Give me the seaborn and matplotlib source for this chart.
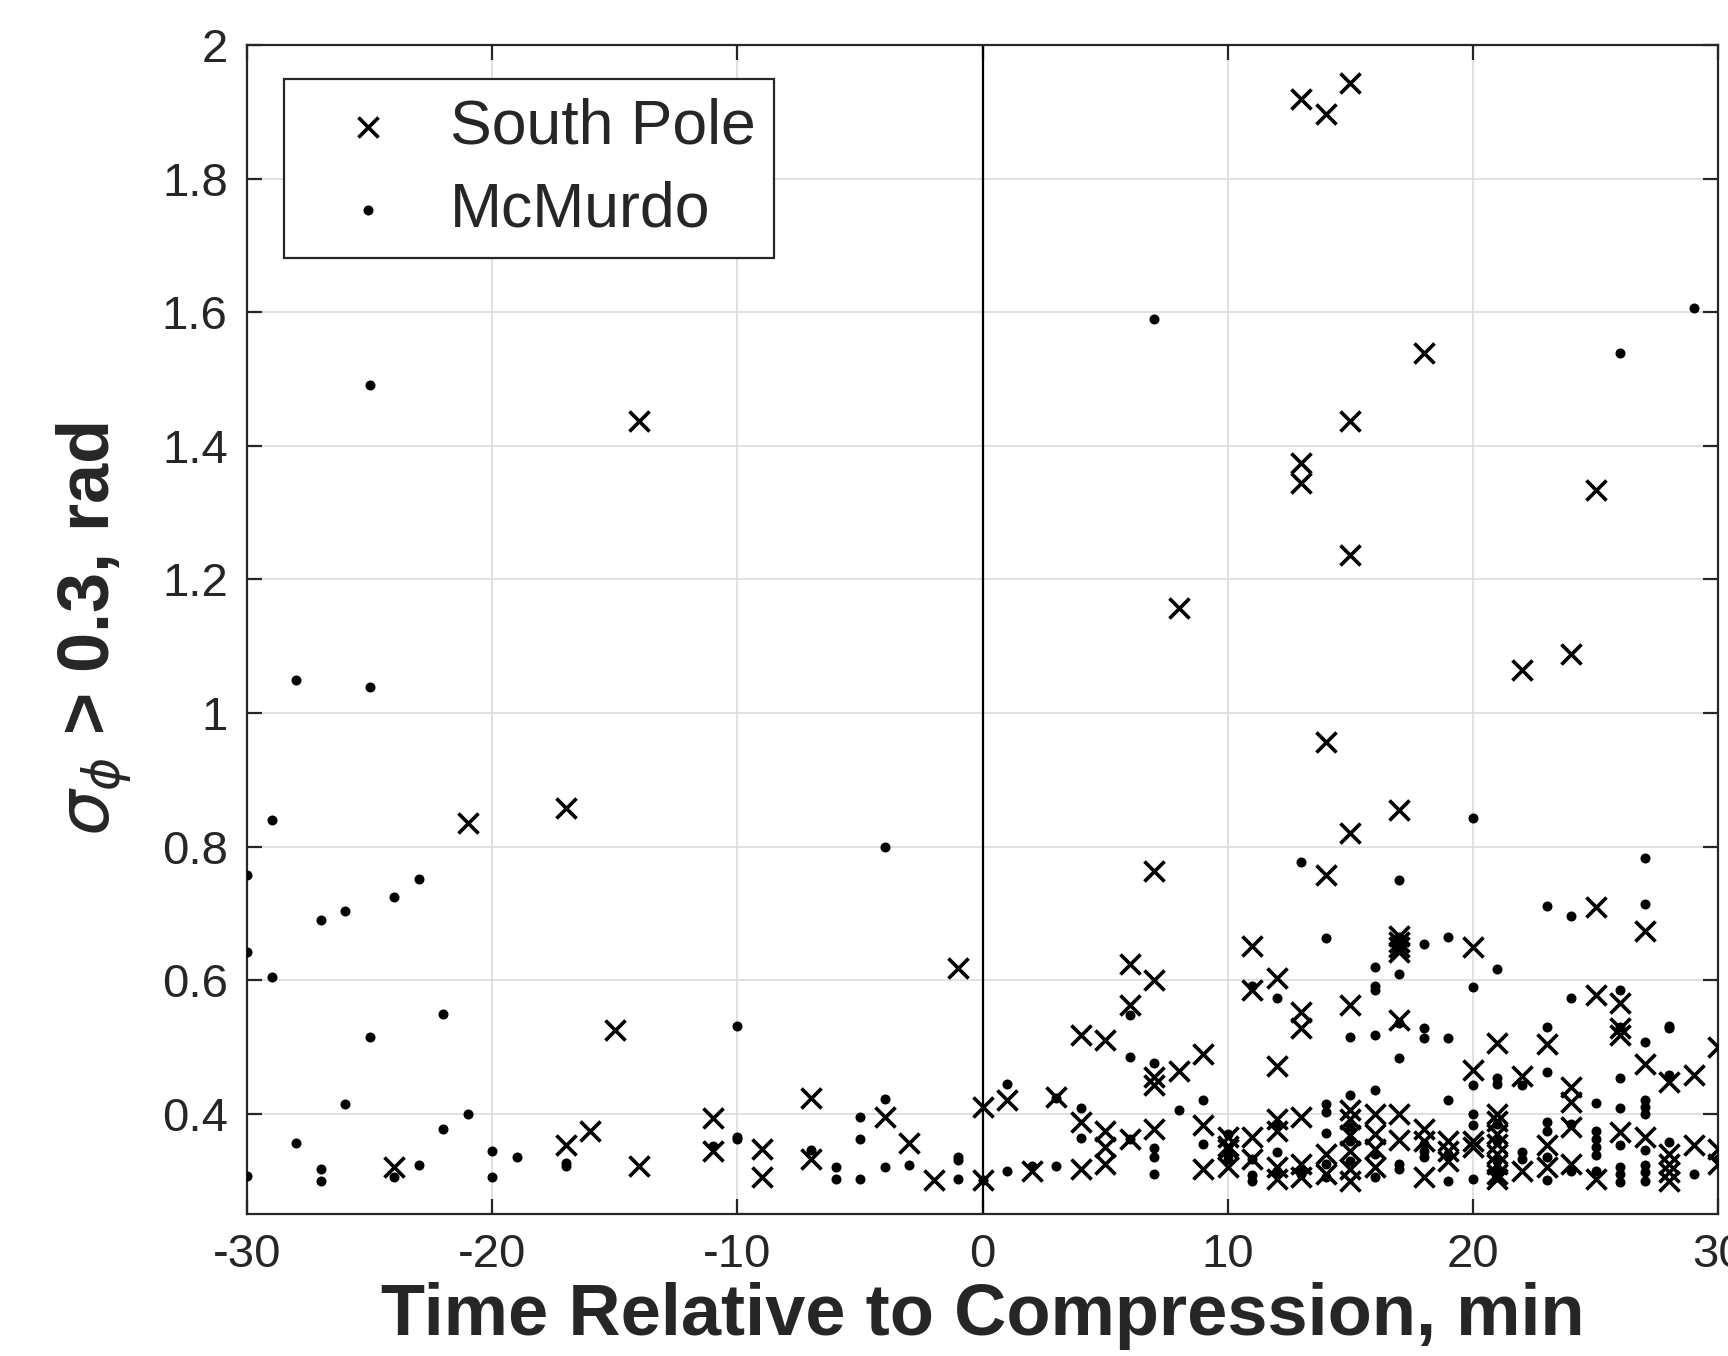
"""
Scatter of phase scintillation events (sigma_phi > 0.3 rad) relative to
compression onset, South Pole vs McMurdo.
"""

import matplotlib

matplotlib.use("Agg")

import matplotlib.pyplot as plt
import numpy as np
import pandas as pd
import seaborn as sns


# South Pole events (minutes from compression, sigma_phi in rad)
SP_TIME = [
    -24, -21, -17, -17, -16, -15, -14, -14, -11, -11, -9, -9, -7, -7, -4, -3, -2, -1, 0, 0,
    1, 2, 3, 4, 4, 4, 5, 5, 5, 5, 6, 6, 6, 7, 7, 7, 7, 7, 8, 8, 9, 9, 9,
    10, 10, 10, 10, 11, 11, 11, 11, 12, 12, 12, 12, 12, 12,
    13, 13, 13, 13, 13, 13, 13, 13, 14, 14, 14, 14, 14,
    15, 15, 15, 15, 15, 15, 15, 15, 15, 15, 15, 16, 16, 16, 16,
    17, 17, 17, 17, 17, 17, 17, 17, 18, 18, 18, 18, 19, 19, 19, 20, 20, 20, 20,
    21, 21, 21, 21, 21, 21, 21, 21, 21, 22, 22, 22, 23, 23, 23,
    24, 24, 24, 24, 24, 25, 25, 25, 25, 26, 26, 26, 26, 27, 27, 27,
    28, 28, 28, 28, 28, 29, 29, 30, 30, 30,
]
SP_SIGMA = [
    0.321, 0.835, 0.858, 0.353, 0.374, 0.526, 1.438, 0.322, 0.394, 0.345, 0.348, 0.305,
    0.423, 0.333, 0.396, 0.356, 0.301, 0.619, 0.410, 0.301,
    0.420, 0.314, 0.425, 0.518, 0.388, 0.318, 0.510, 0.375, 0.350, 0.325, 0.625, 0.563, 0.363,
    0.764, 0.600, 0.455, 0.443, 0.378, 1.157, 0.464, 0.489, 0.384, 0.318,
    0.365, 0.352, 0.347, 0.320, 0.652, 0.585, 0.365, 0.333, 0.603, 0.471, 0.393, 0.375, 0.320, 0.303,
    1.919, 1.374, 1.344, 0.553, 0.528, 0.396, 0.325, 0.305, 1.897, 0.957, 0.757, 0.340, 0.310,
    1.944, 1.438, 1.236, 0.821, 0.563, 0.405, 0.393, 0.368, 0.345, 0.318, 0.300,
    0.400, 0.370, 0.348, 0.320,
    0.855, 0.666, 0.658, 0.650, 0.642, 0.540, 0.400, 0.361, 1.539, 0.378, 0.360, 0.305,
    0.360, 0.345, 0.330, 0.650, 0.465, 0.360, 0.350,
    0.506, 0.400, 0.390, 0.370, 0.355, 0.340, 0.325, 0.310, 0.303, 1.064, 0.456, 0.315,
    0.505, 0.353, 0.320,
    1.089, 0.440, 0.418, 0.380, 0.325, 1.334, 0.710, 0.578, 0.303, 0.566, 0.528, 0.518, 0.373,
    0.673, 0.475, 0.365,
    0.448, 0.340, 0.325, 0.313, 0.300, 0.458, 0.353, 0.500, 0.348, 0.325,
]

# McMurdo events
MM_TIME = [
    -30, -30, -30, -29, -29, -28, -28, -27, -27, -27, -26, -26, -25, -25, -25,
    -24, -24, -23, -23, -22, -22, -21, -20, -20, -19, -17, -17, -11, -10, -10, -10,
    -7, -6, -6, -5, -5, -5, -4, -4, -4, -3, -1, -1, -1, 0,
    1, 1, 2, 3, 3, 4, 4, 6, 6, 6, 7, 7, 7, 7, 7, 8, 9, 9, 10, 10, 10,
    11, 11, 11, 11, 12, 12, 12, 12, 12, 13, 13, 13,
    14, 14, 14, 14, 14, 14, 15, 15, 15, 15, 15,
    16, 16, 16, 16, 16, 16, 16, 17, 17, 17, 17, 17, 17, 17, 17,
    18, 18, 18, 18, 18, 18, 19, 19, 19, 19, 19, 20, 20, 20, 20, 20, 20,
    21, 21, 21, 21, 21, 21, 21, 21, 22, 22, 22, 23, 23, 23, 23, 23, 23, 23,
    24, 24, 24, 24, 25, 25, 25, 25, 25, 25,
    26, 26, 26, 26, 26, 26, 26, 26, 26, 27, 27, 27, 27, 27, 27, 27, 27, 27, 27,
    28, 28, 28, 28, 29, 29, 30,
]
MM_SIGMA = [
    0.758, 0.642, 0.307, 0.840, 0.605, 1.050, 0.357, 0.690, 0.318, 0.300, 0.704, 0.415,
    1.491, 1.039, 0.515,
    0.725, 0.306, 0.752, 0.323, 0.550, 0.377, 0.400, 0.344, 0.306, 0.336, 0.326, 0.322,
    0.352, 0.531, 0.366, 0.362,
    0.346, 0.320, 0.302, 0.395, 0.362, 0.303, 0.800, 0.422, 0.321, 0.323, 0.336, 0.331, 0.302, 0.301,
    0.445, 0.314, 0.322, 0.322, 0.423, 0.408, 0.364, 0.548, 0.485, 0.363,
    1.590, 0.476, 0.349, 0.336, 0.310, 0.405, 0.420, 0.355, 0.370, 0.340, 0.332,
    0.591, 0.333, 0.308, 0.300, 0.573, 0.385, 0.343, 0.315, 0.310, 0.777, 0.315, 0.310,
    0.664, 0.415, 0.403, 0.371, 0.325, 0.305, 0.515, 0.428, 0.380, 0.360, 0.330,
    0.620, 0.591, 0.585, 0.518, 0.435, 0.340, 0.305,
    0.750, 0.665, 0.655, 0.609, 0.536, 0.484, 0.325, 0.318,
    0.654, 0.528, 0.513, 0.355, 0.345, 0.335, 0.665, 0.514, 0.421, 0.340, 0.300,
    0.843, 0.590, 0.443, 0.400, 0.383, 0.303,
    0.617, 0.453, 0.445, 0.385, 0.360, 0.330, 0.315, 0.305, 0.443, 0.343, 0.333,
    0.711, 0.530, 0.463, 0.388, 0.375, 0.335, 0.301,
    0.696, 0.574, 0.385, 0.314, 0.416, 0.375, 0.363, 0.350, 0.338, 0.315,
    1.539, 0.586, 0.530, 0.453, 0.409, 0.353, 0.320, 0.310, 0.298,
    0.783, 0.714, 0.508, 0.420, 0.410, 0.400, 0.346, 0.323, 0.313, 0.300,
    0.532, 0.528, 0.458, 0.358, 1.607, 0.310, 0.333,
]

X_TICKS = [-30, -20, -10, 0, 10, 20, 30]
Y_TICKS = [0.4, 0.6, 0.8, 1.0, 1.2, 1.4, 1.6, 1.8, 2.0]
Y_TICK_LABELS = ["0.4", "0.6", "0.8", "1", "1.2", "1.4", "1.6", "1.8", "2"]

INK = "#262626"


def build_frame() -> pd.DataFrame:
    sp = pd.DataFrame({"time": SP_TIME, "sigma": SP_SIGMA, "station": "South Pole"})
    mm = pd.DataFrame({"time": MM_TIME, "sigma": MM_SIGMA, "station": "McMurdo"})
    return pd.concat([sp, mm], ignore_index=True)


def main() -> int:
    sns.set_theme(style="whitegrid")
    plt.rcParams["font.family"] = ["Liberation Sans", "DejaVu Sans"]
    plt.rcParams["axes.unicode_minus"] = False

    df = build_frame()

    fig = plt.figure(figsize=(8.64, 6.78), dpi=200)
    ax = fig.add_axes([0.143, 0.1047, 0.8513, 0.862])

    sns.scatterplot(
        data=df[df["station"] == "South Pole"], x="time", y="sigma",
        marker="x", color="black", s=52, linewidth=1.3, label="South Pole", ax=ax, zorder=3,
    )
    sns.scatterplot(
        data=df[df["station"] == "McMurdo"], x="time", y="sigma",
        marker="o", color="black", s=13, linewidth=0, label="McMurdo", ax=ax, zorder=3,
    )

    ax.axvline(0, color="black", linewidth=0.8, zorder=2)

    ax.set_xlim(-30, 30)
    ax.set_ylim(0.25, 2.0)
    ax.set_xticks(X_TICKS)
    ax.set_yticks(Y_TICKS)
    ax.set_yticklabels(Y_TICK_LABELS)

    ax.grid(True, color="#dcdcdc", linewidth=0.6)
    ax.set_facecolor("white")
    for spine in ax.spines.values():
        spine.set_visible(True)
        spine.set_color(INK)
        spine.set_linewidth(0.8)

    ax.tick_params(
        axis="both", which="major", direction="in", length=5.5, width=0.8,
        colors=INK, labelsize=17, top=True, right=True, bottom=True, left=True, pad=7,
    )
    for lab in ax.get_xticklabels() + ax.get_yticklabels():
        lab.set_color(INK)

    ax.set_xlabel("Time Relative to Compression, min", fontsize=26, fontweight="bold",
                  color=INK, labelpad=1.5)
    ax.set_ylabel(r"$\sigma_\phi$ > 0.3, rad", fontsize=26, fontweight="bold", color=INK)
    ax.yaxis.set_label_coords(-0.076, 0.5)

    leg = ax.legend(
        loc="upper left", bbox_to_anchor=(0.025, 0.971), borderaxespad=0,
        fontsize=22.5, frameon=True, fancybox=False, framealpha=1,
        borderpad=0.3, labelspacing=0.38, handlelength=2.1, handletextpad=0.25,
    )
    leg.get_frame().set_edgecolor(INK)
    leg.get_frame().set_linewidth(0.8)

    fig.savefig("out.png", dpi=200)
    plt.close(fig)
    return 0


if __name__ == "__main__":
    raise SystemExit(main())
